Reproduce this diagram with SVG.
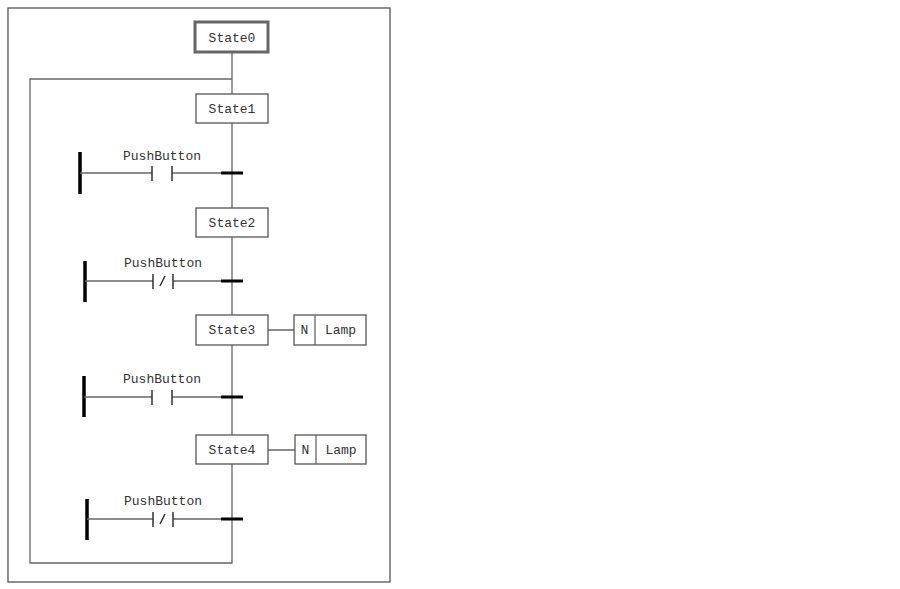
<svg xmlns="http://www.w3.org/2000/svg" width="900" height="589" viewBox="0 0 900 589">
<style>
.b{fill:#fff;stroke:#555;stroke-width:1.3}
.l{stroke:#666;stroke-width:1.3;fill:none}
.r{stroke:#000;stroke-width:3.5}
.t{stroke:#000;stroke-width:3}
.c{stroke:#333;stroke-width:1.5}
text{font-family:"Liberation Mono",monospace;font-size:13px;fill:#333;text-anchor:middle}
</style>
<rect x="0" y="0" width="900" height="589" fill="#fff"/>
<rect x="8" y="8" width="382" height="574" class="b"/>
<g id="connectors">
<path class="l" d="M232 52V519M232 79H30V563H232V519"/>
<path class="l" d="M268 330H294M268 450H295"/>
</g>
<g id="State0"><rect x="195" y="22" width="73" height="30" fill="#fff" stroke="#666" stroke-width="3"/><rect x="198.5" y="25.5" width="66" height="23" fill="none" stroke="#fff" stroke-width="1.2"/><text x="232" y="42">State0</text></g>
<g id="State1"><rect x="196" y="94" width="72" height="29" class="b"/><text x="232" y="113">State1</text></g>
<g id="State2"><rect x="196" y="208" width="72" height="29" class="b"/><text x="232" y="227">State2</text></g>
<g id="State3"><rect x="196" y="315" width="72" height="30" class="b"/><text x="232" y="334">State3</text></g>
<g id="State4"><rect x="196" y="435" width="72" height="29" class="b"/><text x="232" y="454">State4</text></g>
<g id="Action3"><rect x="294" y="315" width="72" height="30" class="b"/><line x1="315" y1="315" x2="315" y2="345" class="l"/><text x="304.5" y="334">N</text><text x="340.5" y="334">Lamp</text></g>
<g id="Action4"><rect x="295" y="435" width="71" height="29" class="b"/><line x1="316" y1="435" x2="316" y2="464" class="l"/><text x="305.5" y="454">N</text><text x="341" y="454">Lamp</text></g>
<g id="T1"><line class="r" x1="80" y1="152" x2="80" y2="194"/><path class="l" d="M80 173H152M172 173H232"/><path class="c" d="M152 166V181M172 166V181"/><line class="t" x1="221" y1="173" x2="243" y2="173"/><text x="162" y="160">PushButton</text></g>
<g id="T2"><line class="r" x1="85" y1="261" x2="85" y2="302"/><path class="l" d="M85 281H153M173 281H232"/><path class="c" d="M153 274V289M173 274V289M160 286L165 276"/><line class="t" x1="221" y1="281" x2="243" y2="281"/><text x="163" y="267">PushButton</text></g>
<g id="T3"><line class="r" x1="84" y1="376" x2="84" y2="417"/><path class="l" d="M84 397H152M172 397H232"/><path class="c" d="M152 390V405M172 390V405"/><line class="t" x1="221" y1="397" x2="243" y2="397"/><text x="162" y="383">PushButton</text></g>
<g id="T4"><line class="r" x1="87" y1="499" x2="87" y2="540"/><path class="l" d="M87 519H153M173 519H232"/><path class="c" d="M153 512V527M173 512V527M160 524L165 514"/><line class="t" x1="221" y1="519" x2="243" y2="519"/><text x="163" y="505">PushButton</text></g>
</svg>
